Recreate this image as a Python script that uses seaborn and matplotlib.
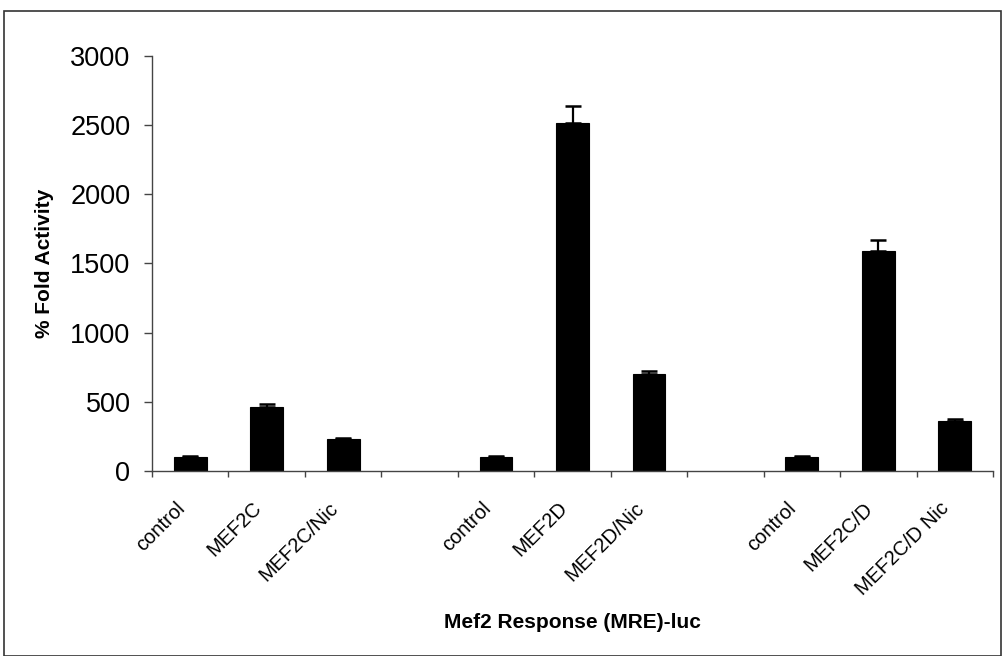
import matplotlib
matplotlib.use("Agg")
import matplotlib.pyplot as plt
import matplotlib.transforms as mtransforms
import seaborn as sns
import pandas as pd
import numpy as np
from matplotlib.patches import Rectangle

sns.set_theme(style="white")
plt.rcParams['font.family'] = ['Liberation Sans', 'DejaVu Sans']
plt.rcParams['text.color'] = 'black'
plt.rcParams['xtick.labelcolor'] = 'black'
plt.rcParams['ytick.labelcolor'] = 'black'

# ---- data ----
slot_keys = ["c1", "MEF2C", "MEF2C/Nic", "gap1", "c2", "MEF2D", "MEF2D/Nic", "gap2", "c3", "MEF2C/D", "MEF2C/D Nic"]
tick_labels = ["control", "MEF2C", "MEF2C/Nic", "", "control", "MEF2D", "MEF2D/Nic", "", "control", "MEF2C/D", "MEF2C/D Nic"]
bar_keys = ["c1", "MEF2C", "MEF2C/Nic", "c2", "MEF2D", "MEF2D/Nic", "c3", "MEF2C/D", "MEF2C/D Nic"]
values = [100, 464, 231, 100, 2516, 699, 100, 1591, 363]
errors = [6, 22, 8, 6, 121, 23, 6, 76, 15]

df = pd.DataFrame({"key": bar_keys, "value": values, "err": errors})

fig = plt.figure(figsize=(10.02, 6.56), dpi=100)
ax = fig.add_axes([152/1002, 1 - 471/656, (993-152)/1002, (471-55.7)/656])

sns.barplot(data=df, x="key", y="value", order=slot_keys, color="black",
            width=0.43, edgecolor="black", linewidth=0.8, errorbar=None, ax=ax)

pos = [slot_keys.index(k) for k in bar_keys]
ax.errorbar(pos, values, yerr=[np.zeros(len(errors)), errors], fmt="none",
            ecolor="black", elinewidth=1.6, capsize=5.5, capthick=1.8, zorder=3)

ax.set_xlim(-0.5, len(slot_keys) - 0.5)
ax.set_ylim(0, 3000)
ax.set_yticks([0, 500, 1000, 1500, 2000, 2500, 3000])
ax.tick_params(axis="y", which="major", direction="out", length=6, width=1, color="#444444",
               labelsize=19.5, labelcolor="black", pad=9.5, left=True)

# x: major ticks at slot boundaries, labels on minor ticks at centres
ax.set_xticks(np.arange(-0.5, len(slot_keys), 1.0))
ax.set_xticklabels([])
ax.set_xticks(np.arange(len(slot_keys)), minor=True)
ax.set_xticklabels(tick_labels, minor=True, rotation=45, ha="right",
                   rotation_mode="anchor", fontsize=14.5, color="black")
ax.tick_params(axis="x", which="major", direction="out", length=4, width=1, color="#444444", bottom=True)
ax.tick_params(axis="x", which="minor", length=0, pad=20)
shift = mtransforms.ScaledTranslation(-15/100, 0, fig.dpi_scale_trans)
for lab in ax.get_xticklabels(minor=True):
    lab.set_transform(lab.get_transform() + shift)

for s in ["top", "right"]:
    ax.spines[s].set_visible(False)
for s in ["left", "bottom"]:
    ax.spines[s].set_color("#444444")
    ax.spines[s].set_linewidth(1)

ax.set_xlabel("")
ax.set_ylabel("")
ax.grid(False)

fig.text(45/1002, 1 - 263/656, "% Fold Activity", rotation=90, ha="center", va="center",
         fontsize=15, fontweight="bold", color="black")
fig.text(572/1002, 1 - 622/656, "Mef2 Response (MRE)-luc", ha="center", va="center",
         fontsize=15, fontweight="bold", color="black")

# outer frame
fig.patches.append(Rectangle((4/1002, 0.0), (1001-4)/1002, 1 - 11/656, transform=fig.transFigure,
                             fill=False, edgecolor="#333333", linewidth=1.2))

fig.savefig("out.png", dpi=100)
